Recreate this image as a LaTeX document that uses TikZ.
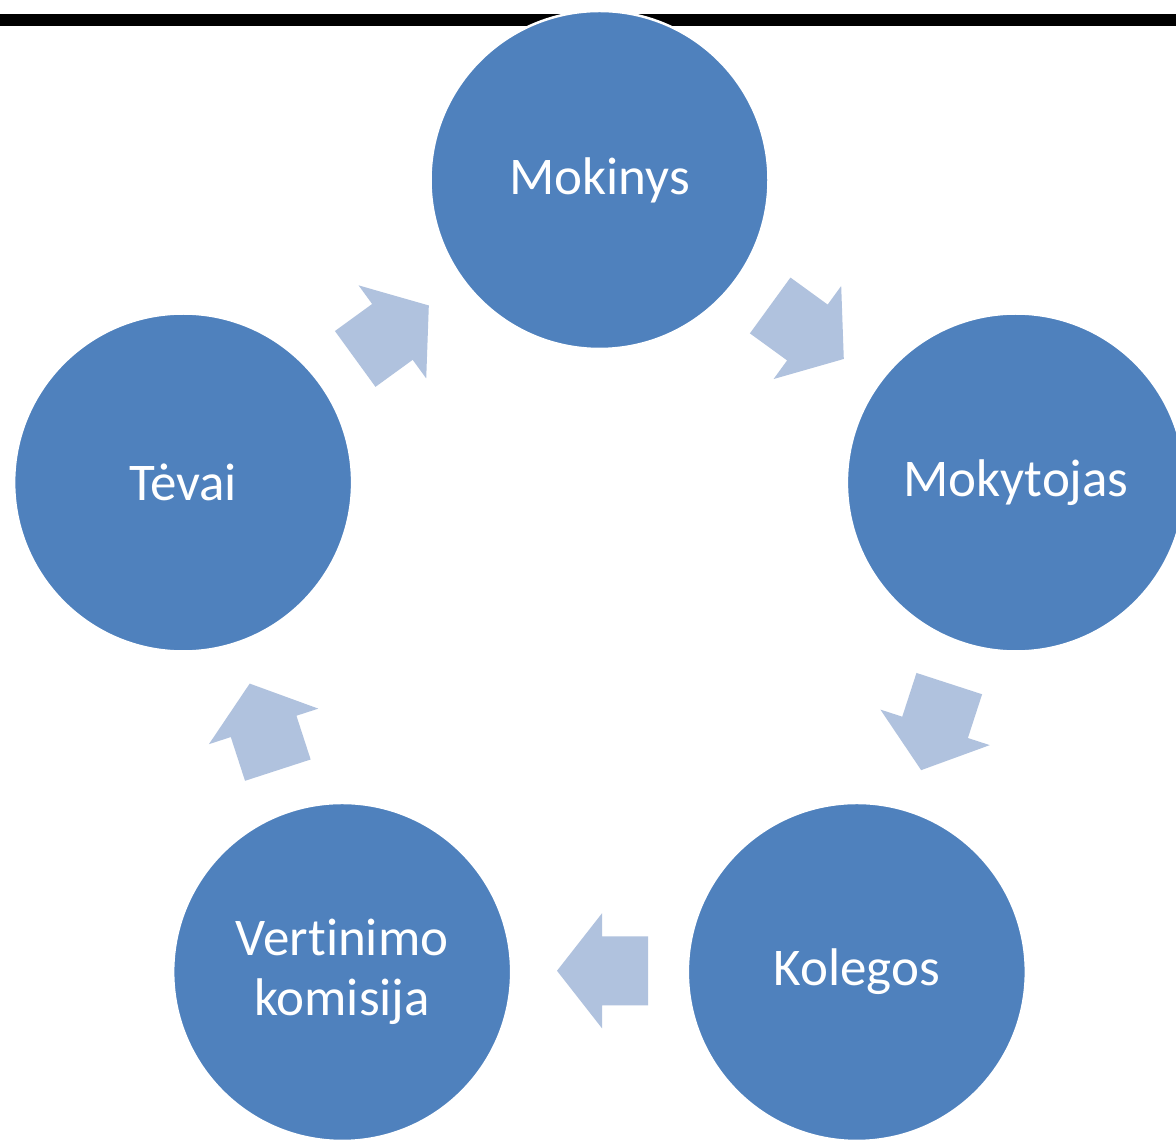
\documentclass[tikz,border=0pt]{standalone}
\usepackage{fontspec}
\setmainfont{Carlito}[Ligatures=NoCommon]
\definecolor{bubblue}{HTML}{4F81BD}
\definecolor{arrblue}{HTML}{B0C2DE}
\tikzset{
  bub/.style={circle, minimum size=338pt, inner sep=0pt, fill=bubblue, draw=white, line width=2.5pt,
    text=white, font=\fontsize{53}{60}\selectfont, align=center},
  cyarrow/.pic={\fill[arrblue] (-45.5,-34.5) -- (0.5,-34.5) -- (0.5,-57.5) -- (45.5,0) -- (0.5,57.5) -- (0.5,34.5) -- (-45.5,34.5) -- cycle;}
}
\begin{document}
\begin{tikzpicture}[x=1pt,y=1pt]
\useasboundingbox (0,0) rectangle (1176,1140);
\clip (0,0) rectangle (1176,1140);
\fill[white] (0,0) rectangle (1176,1140);
\coordinate (C) at (599.5,522.2);
\coordinate (L0) at (0,1119.5);
\coordinate (L1) at (1176,1119.5);
\draw[black, line width=12pt] (L0) -- (L1);
\node[bub] (mok) at ([shift={(90:437.8)}]C) {Mokinys};
\node[bub] (mkt) at ([shift={(18:437.8)}]C) {Mokytojas};
\node[bub] (kol) at ([shift={(-54:437.8)}]C) {Kolegos};
\node[bub] (ver) at ([shift={(-126:437.8)}]C) {Vertinimo\\komisija};
\node[bub] (tev) at ([shift={(162:437.8)}]C) {Tėvai};
\pic[rotate=-36] at ([shift={(54:353)}]C) {cyarrow};
\pic[rotate=-108] at ([shift={(-18:353)}]C) {cyarrow};
\pic[rotate=180] at ([shift={(-90:353)},xshift=3pt]C) {cyarrow};
\pic[rotate=108] at ([shift={(-162:353)}]C) {cyarrow};
\pic[rotate=36] at ([shift={(126:353)}]C) {cyarrow};
\end{tikzpicture}
\end{document}
